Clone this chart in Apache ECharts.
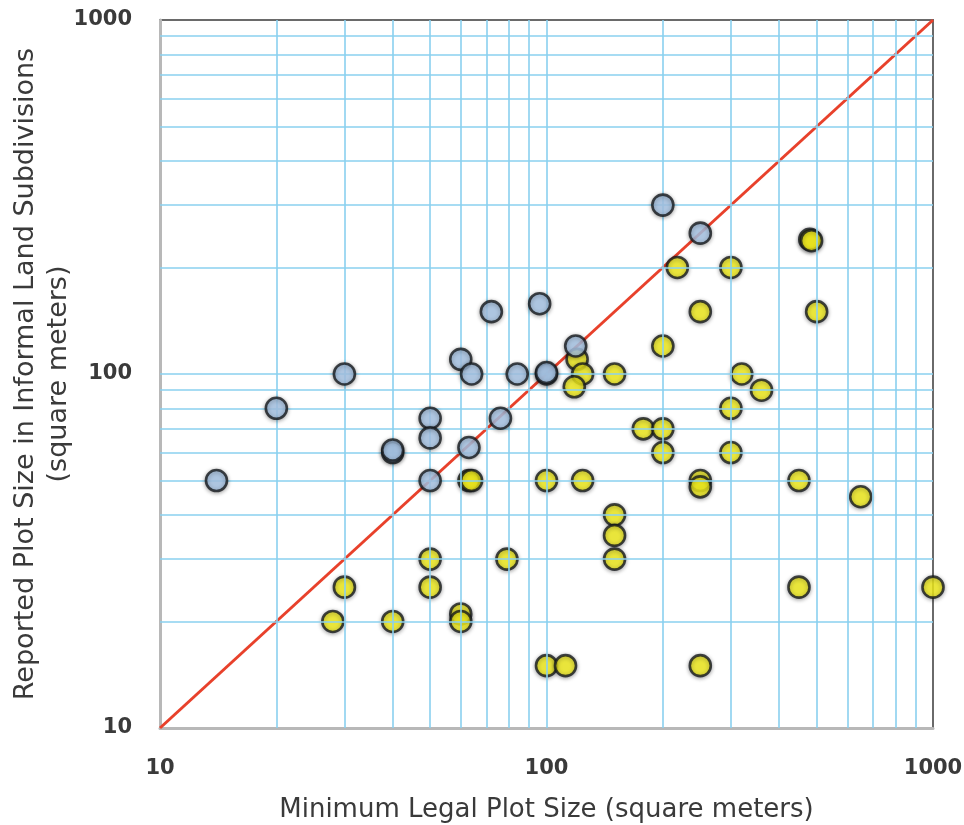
<!DOCTYPE html>
<html>
<head>
<meta charset="utf-8">
<script src="https://cdn.jsdelivr.net/npm/echarts@6/dist/echarts.min.js"></script>
<style>html,body{margin:0;padding:0;background:#fff}#c{width:964px;height:825px}</style>
</head>
<body>
<div id="c"></div>
<script>
// Blue: informal plot size larger than legal minimum (above line)
var bluePoints = [
  [14,50],[20,80],[30,100],[40,60],[40,61],[50,75],[50,66],[50,50],
  [60,110],[64,100],[72,150],[96,158],[84,100],[100,100],[100,101],
  [76,75],[63,62],[119,120],[200,300],[250,250]
];
// Yellow: informal plot size smaller than legal minimum (below line)
var yellowPoints = [
  [218,200],[300,200],[480,240],[485,238],[250,150],[500,150],[200,120],
  [120,110],[124,100],[118,92],[150,100],[320,100],[360,90],[300,80],
  [178,70],[200,70],[200,60],[300,60],[100,50],[124,50],[250,50],[250,48],
  [450,50],[650,45],[150,40],[150,35],[150,30],[79,30],[450,25],[1000,25],
  [100,15],[112,15],[250,15],[63,50],[64,50],[50,30],[30,25],[50,25],
  [28,20],[40,20],[60,21],[60,20]
];
var equalityLine = [[10,10],[1000,1000]];
var gridValues = [20,30,40,50,60,70,80,90,100,200,300,400,500,600,700,800,900];
var xTitle = 'Minimum Legal Plot Size (square meters)';
var yTitle = 'Reported Plot Size in Informal Land Subdivisions\n(square meters)';

var gridColor = '#8ad0ef';
var markData = [];
gridValues.forEach(function(v){ markData.push({xAxis: v}); markData.push({yAxis: v}); });

var chart = echarts.init(document.getElementById('c'));
var labelStyle = {fontFamily:'DejaVu Sans', fontSize:21, fontWeight:'bold', color:'#3a3a3a',
  formatter:function(v){return String(Math.round(v));}};
var pointStyle = function(fill){
  return {color:fill, borderColor:'#15191d', borderWidth:2.6, shadowBlur:4, shadowColor:'rgba(0,0,0,0.4)', shadowOffsetY:1};
};
chart.setOption({
  animation:false,
  backgroundColor:'#fff',
  grid:{left:160, right:31, top:20, bottom:97, show:true, borderColor:'#6a6a6a', borderWidth:2,
    containLabel:false, outerBoundsMode:'none'},
  xAxis:{type:'log', logBase:10, min:10, max:1000, interval:1,
    axisLine:{show:true, lineStyle:{color:'#b8b8b8', width:3}},
    axisTick:{show:false},
    axisLabel:Object.assign({margin:30}, labelStyle),
    splitLine:{show:false},
    name:xTitle, nameLocation:'middle', nameGap:69, nameMoveOverlap:false,
    nameTextStyle:{fontFamily:'DejaVu Sans', fontSize:26, color:'#3a3a3a'}
  },
  yAxis:{type:'log', logBase:10, min:10, max:1000, interval:1,
    axisLine:{show:true, lineStyle:{color:'#b8b8b8', width:3}},
    axisTick:{show:false},
    axisLabel:Object.assign({margin:28}, labelStyle),
    splitLine:{show:false},
    name:yTitle, nameLocation:'middle', nameGap:85, nameRotate:90, nameMoveOverlap:false,
    nameTextStyle:{fontFamily:'DejaVu Sans', fontSize:27, color:'#3a3a3a', lineHeight:33, align:'center'}
  },
  series:[
    {type:'line', data:[[10,10]], showSymbol:false, silent:true, z:1,
      lineStyle:{width:0},
      markLine:{silent:true, symbol:'none', label:{show:false}, animation:false,
        lineStyle:{color:gridColor, width:1.6, type:'solid'}, data:markData}},
    {type:'line', data:equalityLine, showSymbol:false, z:3,
      lineStyle:{color:'#e8412b', width:3}},
    {type:'scatter', data:yellowPoints, symbolSize:21, z:4, itemStyle:pointStyle('#f8f21e')},
    {type:'scatter', data:bluePoints, symbolSize:21, z:5, itemStyle:pointStyle('#adcbec')}
  ]
});
</script>
</body>
</html>
